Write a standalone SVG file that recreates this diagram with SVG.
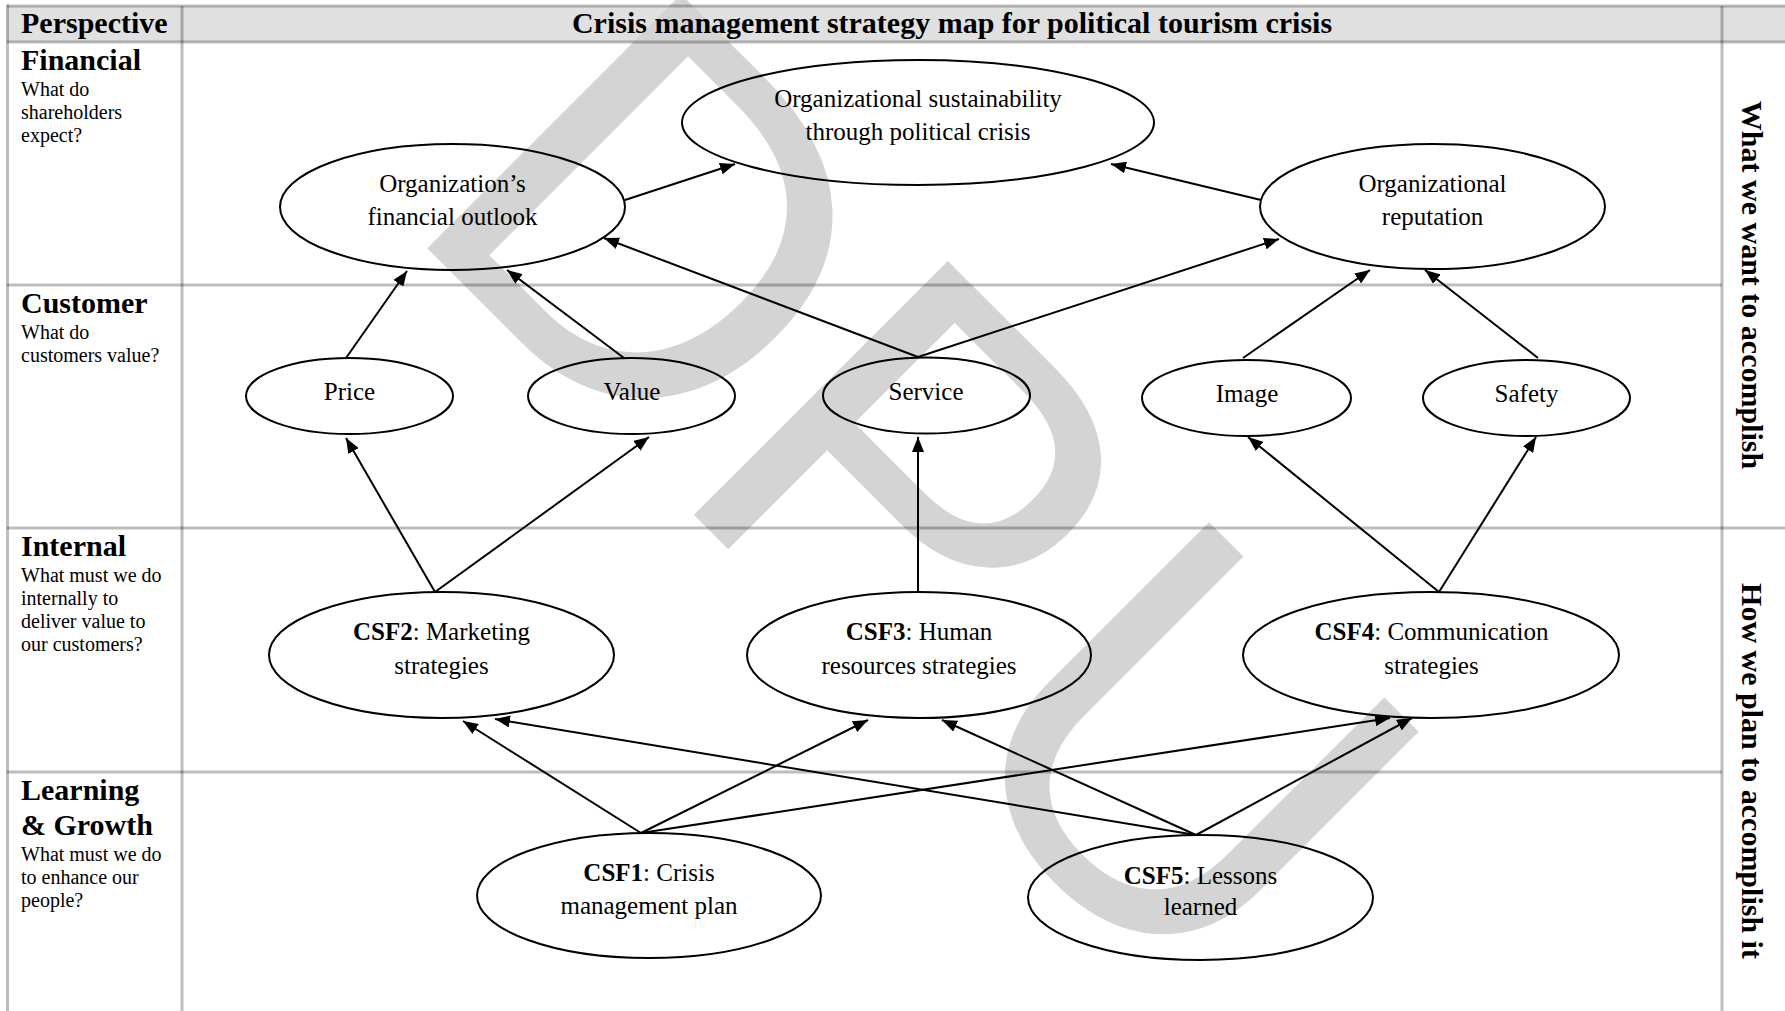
<svg xmlns="http://www.w3.org/2000/svg" width="1785" height="1011" viewBox="0 0 1785 1011">
<defs>
<style>
.t{font-family:"Liberation Serif","Times New Roman",serif;fill:#000}
.h{font-size:30px;font-weight:bold}
.s{font-size:20px}
.n{font-size:25px;text-anchor:middle}
.b{font-weight:bold}
.grid{stroke:#000;stroke-opacity:0.26;stroke-width:3;fill:none}
.node{fill:none;stroke:#000;stroke-width:2}
.edge{stroke:#000;stroke-width:2;fill:none;marker-end:url(#arr)}
.wm{font-family:"Liberation Sans",Arial,sans-serif;font-size:522px;fill:#d4d4d4}
</style>
<marker id="arr" markerUnits="userSpaceOnUse" markerWidth="16" markerHeight="12" refX="15" refY="6" orient="auto">
<path d="M0,0 L15,6 L0,12 Z" fill="#000"/>
</marker>
</defs>
<rect x="0" y="0" width="1785" height="1011" fill="#fff"/>
<rect x="7" y="6" width="1778" height="36" fill="#e0e0e0"/>
<g id="watermark">
<text class="wm" x="0 377 749" y="0" transform="translate(397,218) rotate(45)">DPU</text>
</g>
<g id="table">
<line class="grid" x1="7" y1="6" x2="1785" y2="6"/>
<line class="grid" x1="7" y1="42" x2="1785" y2="42"/>
<line class="grid" x1="7.5" y1="4.5" x2="7.5" y2="1011"/>
<line class="grid" x1="182" y1="6" x2="182" y2="1011"/>
<line class="grid" x1="1722" y1="6" x2="1722" y2="1011"/>
<line class="grid" x1="7" y1="285" x2="1722" y2="285"/>
<line class="grid" x1="7" y1="528" x2="1785" y2="528"/>
<line class="grid" x1="7" y1="772" x2="1722" y2="772"/>
</g>
<g id="headers">
<text class="t h" x="21" y="33">Perspective</text>
<text class="t h" x="952" y="33" text-anchor="middle">Crisis management strategy map for political tourism crisis</text>
<text class="t h" x="0" y="11" text-anchor="middle" transform="translate(1753,285) rotate(90)">What we want to accomplish</text>
<text class="t h" x="0" y="11" text-anchor="middle" transform="translate(1753,771) rotate(90)">How we plan to accomplish it</text>
</g>
<g id="perspectives">
<text class="t h" x="21" y="70">Financial</text>
<text class="t s" x="21" y="96">What do</text>
<text class="t s" x="21" y="119">shareholders</text>
<text class="t s" x="21" y="142">expect?</text>
<text class="t h" x="21" y="313">Customer</text>
<text class="t s" x="21" y="339">What do</text>
<text class="t s" x="21" y="362">customers value?</text>
<text class="t h" x="21" y="556">Internal</text>
<text class="t s" x="21" y="582">What must we do</text>
<text class="t s" x="21" y="605">internally to</text>
<text class="t s" x="21" y="628">deliver value to</text>
<text class="t s" x="21" y="651">our customers?</text>
<text class="t h" x="21" y="800">Learning</text>
<text class="t h" x="21" y="835">&amp; Growth</text>
<text class="t s" x="21" y="861">What must we do</text>
<text class="t s" x="21" y="884">to enhance our</text>
<text class="t s" x="21" y="907">people?</text>
</g>
<g id="connectors">
<line class="edge" x1="625" y1="200" x2="735" y2="164"/>
<line class="edge" x1="1261" y1="200" x2="1111" y2="164"/>
<line class="edge" x1="918" y1="357" x2="604" y2="238"/>
<line class="edge" x1="918" y1="357" x2="1279" y2="239"/>
<line class="edge" x1="346" y1="358" x2="407" y2="271"/>
<line class="edge" x1="624" y1="358" x2="507" y2="270"/>
<line class="edge" x1="1243" y1="358" x2="1370" y2="270"/>
<line class="edge" x1="1538" y1="358" x2="1425" y2="270"/>
<line class="edge" x1="435" y1="592" x2="346" y2="438"/>
<line class="edge" x1="435" y1="592" x2="649" y2="437"/>
<line class="edge" x1="918" y1="592" x2="918" y2="437"/>
<line class="edge" x1="1439" y1="592" x2="1248" y2="437"/>
<line class="edge" x1="1439" y1="592" x2="1536" y2="437"/>
<line class="edge" x1="641" y1="833" x2="463" y2="721"/>
<line class="edge" x1="641" y1="833" x2="868" y2="720"/>
<line class="edge" x1="641" y1="833" x2="1390" y2="718"/>
<line class="edge" x1="1196" y1="835" x2="495" y2="719"/>
<line class="edge" x1="1196" y1="835" x2="942" y2="720"/>
<line class="edge" x1="1196" y1="835" x2="1412" y2="718"/>
</g>
<g id="node-sustainability">
<ellipse class="node" cx="918" cy="122.5" rx="236" ry="62.5"/>
<text class="t n" x="918" y="107">Organizational sustainability</text>
<text class="t n" x="918" y="140">through political crisis</text>
</g>
<g id="node-financial-outlook">
<ellipse class="node" cx="452.5" cy="207" rx="172.5" ry="63"/>
<text class="t n" x="452.5" y="192">Organization’s</text>
<text class="t n" x="452.5" y="225">financial outlook</text>
</g>
<g id="node-reputation">
<ellipse class="node" cx="1432.5" cy="206.5" rx="172.5" ry="62.5"/>
<text class="t n" x="1432.5" y="192">Organizational</text>
<text class="t n" x="1432.5" y="225">reputation</text>
</g>
<g id="node-price">
<ellipse class="node" cx="349.5" cy="396" rx="103.5" ry="38"/>
<text class="t n" x="349.5" y="400">Price</text>
</g>
<g id="node-value">
<ellipse class="node" cx="631.5" cy="396" rx="103.5" ry="38"/>
<text class="t n" x="632" y="400">Value</text>
</g>
<g id="node-service">
<ellipse class="node" cx="926.5" cy="395.5" rx="103.5" ry="38"/>
<text class="t n" x="926" y="400">Service</text>
</g>
<g id="node-image">
<ellipse class="node" cx="1246.5" cy="398" rx="104.5" ry="38"/>
<text class="t n" x="1247" y="402">Image</text>
</g>
<g id="node-safety">
<ellipse class="node" cx="1526.5" cy="398" rx="103.5" ry="38"/>
<text class="t n" x="1526.5" y="402">Safety</text>
</g>
<g id="node-csf2">
<ellipse class="node" cx="441.5" cy="655" rx="172.5" ry="63"/>
<text class="t n" x="441.5" y="640"><tspan class="b">CSF2</tspan>: Marketing</text>
<text class="t n" x="441.5" y="674">strategies</text>
</g>
<g id="node-csf3">
<ellipse class="node" cx="919" cy="655" rx="172" ry="63"/>
<text class="t n" x="919" y="640"><tspan class="b">CSF3</tspan>: Human</text>
<text class="t n" x="919" y="674">resources strategies</text>
</g>
<g id="node-csf4">
<ellipse class="node" cx="1431" cy="655" rx="188" ry="63"/>
<text class="t n" x="1431.5" y="640"><tspan class="b">CSF4</tspan>: Communication</text>
<text class="t n" x="1431.5" y="674">strategies</text>
</g>
<g id="node-csf1">
<ellipse class="node" cx="649" cy="895.5" rx="172" ry="62.5"/>
<text class="t n" x="649" y="881"><tspan class="b">CSF1</tspan>: Crisis</text>
<text class="t n" x="649" y="914">management plan</text>
</g>
<g id="node-csf5">
<ellipse class="node" cx="1200.5" cy="897.5" rx="172.5" ry="62.5"/>
<text class="t n" x="1200.5" y="884"><tspan class="b">CSF5</tspan>: Lessons</text>
<text class="t n" x="1200.5" y="915">learned</text>
</g>
</svg>
